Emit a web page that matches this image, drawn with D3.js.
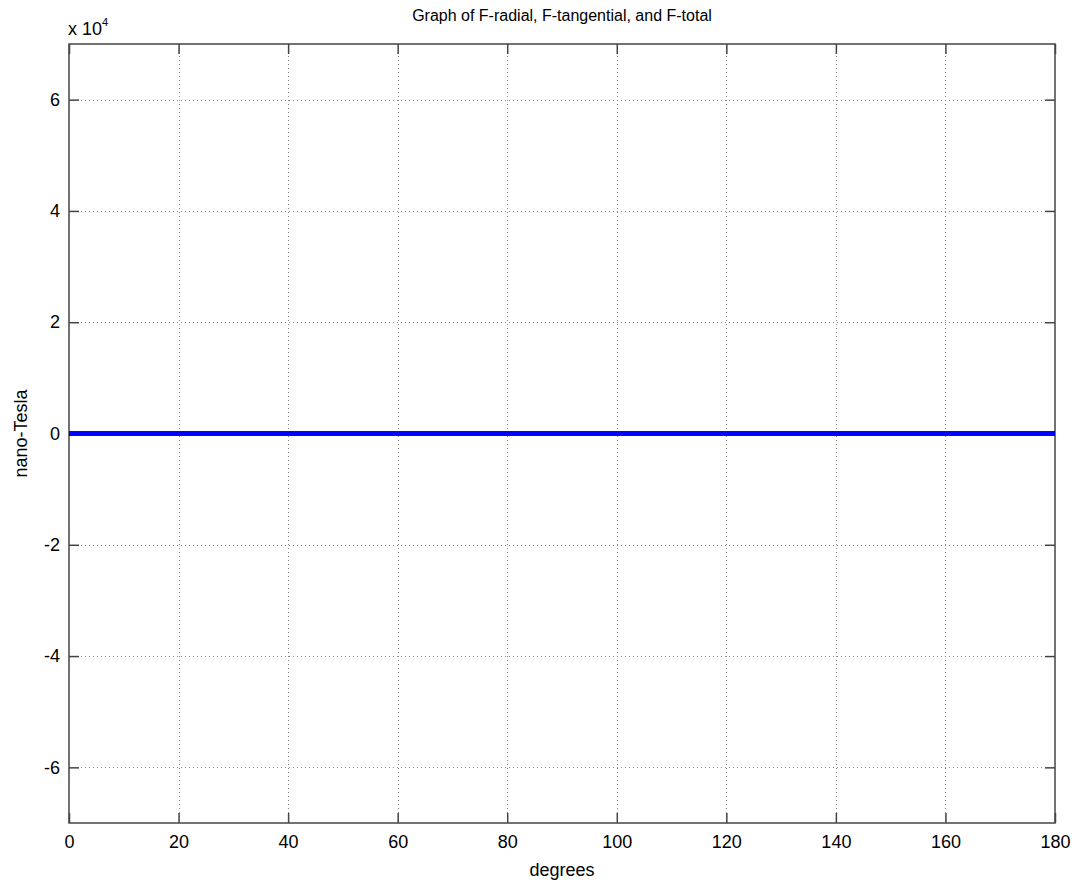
<!DOCTYPE html>
<html>
<head>
<meta charset="utf-8">
<script src="https://cdn.jsdelivr.net/npm/d3@7"></script>
<style>
body { margin: 0; background: #fff; }
text { font-family: "Liberation Sans", Arial, sans-serif; fill: #000; }
</style>
</head>
<body>
<svg width="1076" height="884"></svg>
<script>
var degrees = [0, 20, 40, 60, 80, 100, 120, 140, 160, 180];
// values in units of 1e4 nano-Tesla, all essentially zero at this scale
var fRadial = [0, 0, 0, 0, 0, 0, 0, 0, 0, 0];
var fTangential = [0, 0, 0, 0, 0, 0, 0, 0, 0, 0];
var fTotal = [0, 0, 0, 0, 0, 0, 0, 0, 0, 0];
var xTicks = [0, 20, 40, 60, 80, 100, 120, 140, 160, 180];
var yTicks = [-6, -4, -2, 0, 2, 4, 6];

var width = 1076, height = 884;
var plotLeft = 69, plotRight = 1055, plotTop = 44, plotBottom = 823;

var svg = d3.select('svg');

var x = d3.scaleLinear().domain([0, 180]).range([plotLeft, plotRight]);
var y = d3.scaleLinear().domain([-7, 7]).range([plotBottom, plotTop]);

// grid
var grid = svg.append('g')
	.attr('stroke', '#888')
	.attr('stroke-width', 1)
	.attr('stroke-dasharray', '1,3');
grid.selectAll('.gx').data(xTicks.slice(1, -1)).enter().append('line')
	.attr('x1', function (d) { return Math.round(x(d)) + 0.5; })
	.attr('x2', function (d) { return Math.round(x(d)) + 0.5; })
	.attr('y1', plotTop).attr('y2', plotBottom);
grid.selectAll('.gy').data(yTicks).enter().append('line')
	.attr('y1', function (d) { return Math.round(y(d)) + 0.5; })
	.attr('y2', function (d) { return Math.round(y(d)) + 0.5; })
	.attr('x1', plotLeft).attr('x2', plotRight);

// axes, ticks pointing inward on all four sides
var tickLen = 10;
var plain = function (d) { return String(d); };
svg.append('g').attr('transform', 'translate(0,' + plotBottom + ')')
	.call(d3.axisBottom(x).tickValues(xTicks).tickFormat(plain).tickSizeInner(-tickLen).tickSizeOuter(0).tickPadding(12));
svg.append('g').attr('transform', 'translate(0,' + plotTop + ')')
	.call(d3.axisTop(x).tickValues(xTicks).tickSizeInner(-tickLen).tickSizeOuter(0).tickFormat(''));
svg.append('g').attr('transform', 'translate(' + plotLeft + ',0)')
	.call(d3.axisLeft(y).tickValues(yTicks).tickFormat(plain).tickSizeInner(-tickLen).tickSizeOuter(0).tickPadding(9));
svg.append('g').attr('transform', 'translate(' + plotRight + ',0)')
	.call(d3.axisRight(y).tickValues(yTicks).tickSizeInner(-tickLen).tickSizeOuter(0).tickFormat(''));

svg.selectAll('.domain').remove();
svg.selectAll('.tick line').attr('stroke', '#444').attr('stroke-width', 1.5);
svg.selectAll('.tick text').style('font-size', '18px').style('font-family', '"Liberation Sans", Arial, sans-serif');

svg.append('rect')
	.attr('x', plotLeft).attr('y', plotTop)
	.attr('width', plotRight - plotLeft).attr('height', plotBottom - plotTop)
	.attr('fill', 'none').attr('stroke', '#444').attr('stroke-width', 1.5);

// lines
var line = d3.line()
	.x(function (d, i) { return x(degrees[i]); })
	.y(function (d) { return y(d); });
var series = [
	{ values: fRadial, color: '#0000ff' },
	{ values: fTangential, color: '#0000ff' },
	{ values: fTotal, color: '#0000ff' }
];
svg.selectAll('.series').data(series).enter().append('path')
	.attr('d', function (s) { return line(s.values); })
	.attr('fill', 'none')
	.attr('stroke', function (s) { return s.color; })
	.attr('stroke-width', 4.5);

// labels
svg.append('text')
	.attr('x', (plotLeft + plotRight) / 2).attr('y', 21)
	.attr('text-anchor', 'middle')
	.style('font-size', '16px')
	.text('Graph of F-radial, F-tangential, and F-total');

svg.append('text')
	.attr('x', (plotLeft + plotRight) / 2).attr('y', 876)
	.attr('text-anchor', 'middle')
	.style('font-size', '18px')
	.text('degrees');

svg.append('text')
	.attr('transform', 'translate(27,' + y(0) + ') rotate(-90)')
	.attr('text-anchor', 'middle')
	.style('font-size', '18px')
	.text('nano-Tesla');

var mult = svg.append('text')
	.attr('x', 68).attr('y', 35)
	.style('font-size', '18px');
mult.append('tspan').text('x 10');
mult.append('tspan').attr('dy', -9).style('font-size', '11px').text('4');
</script>
</body>
</html>
